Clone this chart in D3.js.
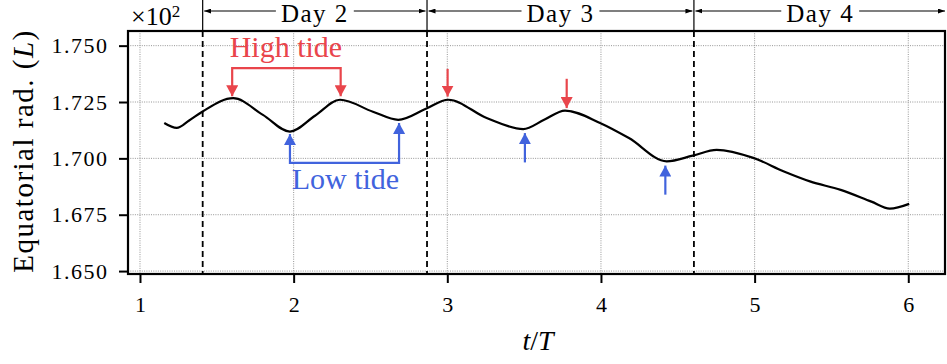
<!DOCTYPE html>
<html>
<head>
<meta charset="utf-8">
<script src="https://cdn.jsdelivr.net/npm/d3@7"></script>
<style>
  body { margin: 0; background: #fff; }
  svg { display: block; }
  svg text { font-family: "Liberation Serif", "DejaVu Serif", "Times New Roman", Tinos, serif; }
</style>
</head>
<body>
<div id="chart"></div>
<script>
// curve
const tValues = [1.158, 1.239, 1.320, 1.408, 1.607, 1.800, 1.976, 2.139, 2.302, 2.516, 2.681,
    2.861, 3.006, 3.256, 3.494, 3.630, 3.766, 3.994, 4.182, 4.428, 4.597, 4.753, 4.991,
    5.191, 5.360, 5.560, 5.760, 5.880, 6.006]
const radValues = [1.7157, 1.7135, 1.7168, 1.7208, 1.7267, 1.7193, 1.7119, 1.7189, 1.7260, 1.7207, 1.7171,
    1.7220, 1.7260, 1.7179, 1.7130, 1.7171, 1.7212, 1.7157, 1.7090, 1.6987, 1.7012, 1.7038, 1.7002,
    1.6942, 1.6898, 1.6860, 1.6808, 1.6777, 1.6798]

const xTicks = [1, 2, 3, 4, 5, 6]
const yTicks = [1.650, 1.675, 1.700, 1.725, 1.750]

const dayBounds = [1.408, 2.868, 4.605]
const dayLabels = ['Day 2', 'Day 3', 'Day 4']

// tide markers: [x, tail y, tip y]
const highSingle = [[3.002, 1.7397, 1.7274], [3.777, 1.7353, 1.7223]]
const lowSingle = [[3.505, 1.6982, 1.7112], [4.419, 1.6839, 1.6968]]
// brackets: x left, x right, bracket y, tip left, tip right
const highBracket = [1.600, 2.306, 1.7400, 1.7275, 1.7275]
const lowBracket = [1.976, 2.686, 1.6980, 1.7108, 1.7157]
const highLabel = { text: 'High tide', t: 1.950, v: 1.7451 }
const lowLabel = { text: 'Low tide', t: 2.337, v: 1.6862 }

let dimensions = {
    width: 947,
    height: 364,
    margin: { top: 31, bottom: 90, left: 128, right: 2 }
}

const red = '#e9454b'
const blue = '#4163dd'

const svg = d3.select('#chart')
    .append('svg')
    .attr('width', dimensions.width)
    .attr('height', dimensions.height)

const defs = svg.append('defs')
function addMarker(id, color, w, h) {
    defs.append('marker')
        .attr('id', id)
        .attr('viewBox', `0 0 ${w} ${h}`)
        .attr('refX', w)
        .attr('refY', h / 2)
        .attr('markerWidth', w)
        .attr('markerHeight', h)
        .attr('markerUnits', 'userSpaceOnUse')
        .attr('orient', 'auto-start-reverse')
        .append('path')
        .attr('d', `M0,0L${w},${h / 2}L0,${h}Z`)
        .attr('fill', color)
}
addMarker('headRed', red, 11, 12)
addMarker('headBlue', blue, 11, 12)
addMarker('headBlack', 'black', 7, 5)

const x0 = dimensions.margin.left
const x1 = dimensions.width - dimensions.margin.right
const y0 = dimensions.margin.top
const y1 = dimensions.height - dimensions.margin.bottom

const xScale = d3.scaleLinear()
    .domain([0.922, 6.239])
    .range([x0, x1])

const yScale = d3.scaleLinear()
    .domain([1.6487, 1.7565])
    .range([y1, y0])

// grid
const grid = svg.append('g')
grid.selectAll('.gx')
    .data(xTicks)
    .join('line')
    .attr('x1', d => xScale(d)).attr('x2', d => xScale(d))
    .attr('y1', y0).attr('y2', y1)
    .attr('stroke', '#8a8a8a')
    .attr('stroke-width', 0.9)
    .attr('stroke-dasharray', '1,1.3')
grid.selectAll('.gy')
    .data(yTicks)
    .join('line')
    .attr('y1', d => yScale(d)).attr('y2', d => yScale(d))
    .attr('x1', x0).attr('x2', x1)
    .attr('stroke', '#8a8a8a')
    .attr('stroke-width', 0.9)
    .attr('stroke-dasharray', '1,1.3')

// day boundaries
svg.selectAll('.daydash')
    .data(dayBounds)
    .join('line')
    .attr('x1', d => xScale(d)).attr('x2', d => xScale(d))
    .attr('y1', y0).attr('y2', y1)
    .attr('stroke', 'black')
    .attr('stroke-width', 1.8)
    .attr('stroke-dasharray', '6,4')

svg.selectAll('.daysep')
    .data(dayBounds)
    .join('line')
    .attr('x1', d => xScale(d)).attr('x2', d => xScale(d))
    .attr('y1', 0).attr('y2', y0)
    .attr('stroke', 'black')
    .attr('stroke-width', 1.2)

// day labels with arrows
const dayEnds = dayBounds.map((d, i) => [d, i < dayBounds.length - 1 ? dayBounds[i + 1] : xScale.domain()[1]])
dayEnds.forEach((pair, i) => {
    const a = xScale(pair[0]) + 1.5
    const b = i < dayEnds.length - 1 ? xScale(pair[1]) - 1.5 : x1
    const mid = (a + b) / 2
    const label = svg.append('text')
        .attr('x', mid)
        .attr('y', 22)
        .attr('text-anchor', 'middle')
        .attr('font-size', '25px')
        .attr('letter-spacing', '1.5px')
        .text(dayLabels[i])
    const half = label.node().getComputedTextLength() / 2
    svg.append('line')
        .attr('x1', mid - half - 5).attr('x2', a)
        .attr('y1', 11).attr('y2', 11)
        .attr('stroke', 'black').attr('stroke-width', 1.1)
        .attr('marker-end', 'url(#headBlack)')
    svg.append('line')
        .attr('x1', mid + half + 5).attr('x2', b)
        .attr('y1', 11).attr('y2', 11)
        .attr('stroke', 'black').attr('stroke-width', 1.1)
        .attr('marker-end', 'url(#headBlack)')
})

// offset text
const offText = svg.append('text')
    .attr('x', 131)
    .attr('y', 25)
    .attr('font-size', '26px')
offText.append('tspan').text('\u00d710')
offText.append('tspan').attr('font-size', '17px').attr('dy', -8).text('2')

// curve
const data = tValues.map((t, i) => ({ t: t, v: radValues[i] }))
const line = d3.line()
    .x(d => xScale(d.t))
    .y(d => yScale(d.v))
    .curve(d3.curveMonotoneX)

svg.append('path')
    .datum(data)
    .attr('d', line)
    .attr('fill', 'none')
    .attr('stroke', 'black')
    .attr('stroke-width', 2.2)
    .attr('stroke-linejoin', 'round')

// tide arrows
function bracket(b, color, marker) {
    const p = d3.path()
    p.moveTo(xScale(b[0]), yScale(b[3]))
    p.lineTo(xScale(b[0]), yScale(b[2]))
    p.lineTo(xScale(b[1]), yScale(b[2]))
    p.lineTo(xScale(b[1]), yScale(b[4]))
    svg.append('path')
        .attr('d', p.toString())
        .attr('fill', 'none')
        .attr('stroke', color)
        .attr('stroke-width', 2.2)
        .attr('marker-start', `url(#${marker})`)
        .attr('marker-end', `url(#${marker})`)
}
bracket(highBracket, red, 'headRed')
bracket(lowBracket, blue, 'headBlue')

function singles(list, color, marker) {
    svg.append('g').selectAll('line')
        .data(list)
        .join('line')
        .attr('x1', d => xScale(d[0])).attr('x2', d => xScale(d[0]))
        .attr('y1', d => yScale(d[1])).attr('y2', d => yScale(d[2]))
        .attr('stroke', color)
        .attr('stroke-width', 2.2)
        .attr('marker-end', `url(#${marker})`)
}
singles(highSingle, red, 'headRed')
singles(lowSingle, blue, 'headBlue')

svg.append('text')
    .attr('x', xScale(highLabel.t))
    .attr('y', yScale(highLabel.v))
    .attr('text-anchor', 'middle')
    .attr('font-size', '30px')
    .attr('fill', red)
    .text(highLabel.text)

svg.append('text')
    .attr('x', xScale(lowLabel.t))
    .attr('y', yScale(lowLabel.v))
    .attr('text-anchor', 'middle')
    .attr('font-size', '30px')
    .attr('fill', blue)
    .text(lowLabel.text)

// frame
svg.append('rect')
    .attr('x', x0).attr('y', y0)
    .attr('width', x1 - x0).attr('height', y1 - y0)
    .attr('fill', 'none')
    .attr('stroke', 'black')
    .attr('stroke-width', 2.2)

// axes
const xAxis = d3.axisBottom(xScale).tickValues(xTicks).tickSize(9).tickPadding(13.5).tickFormat(d3.format('d'))
svg.append('g')
    .attr('transform', `translate(0, ${y1})`)
    .call(xAxis)
    .call(g => g.select('.domain').remove())
    .call(g => g.selectAll('line').attr('stroke-width', 2))
    .call(g => g.selectAll('text').attr('font-size', '22px').attr('fill', 'black'))

const yAxis = d3.axisLeft(yScale).tickValues(yTicks).tickSize(9).tickPadding(10.5).tickFormat(d3.format('.3f'))
svg.append('g')
    .attr('transform', `translate(${x0}, 0)`)
    .call(yAxis)
    .call(g => g.select('.domain').remove())
    .call(g => g.selectAll('line').attr('stroke-width', 2))
    .call(g => g.selectAll('text').attr('font-size', '22px').attr('letter-spacing', '1.5px').attr('fill', 'black'))

// axis labels
const xLabel = svg.append('text')
    .attr('x', 538)
    .attr('y', 350)
    .attr('text-anchor', 'middle')
    .attr('font-size', '28px')
xLabel.append('tspan').attr('font-style', 'italic').text('t')
xLabel.append('tspan').text('/')
xLabel.append('tspan').attr('font-style', 'italic').text('T')

const yLabel = svg.append('text')
    .attr('transform', `translate(33, 151) rotate(-90)`)
    .attr('text-anchor', 'middle')
    .attr('font-size', '29px')
    .attr('letter-spacing', '1.5px')
yLabel.append('tspan').text('Equatorial rad. (')
yLabel.append('tspan').attr('font-style', 'italic').text('L')
yLabel.append('tspan').text(')')
</script>
</body>
</html>
